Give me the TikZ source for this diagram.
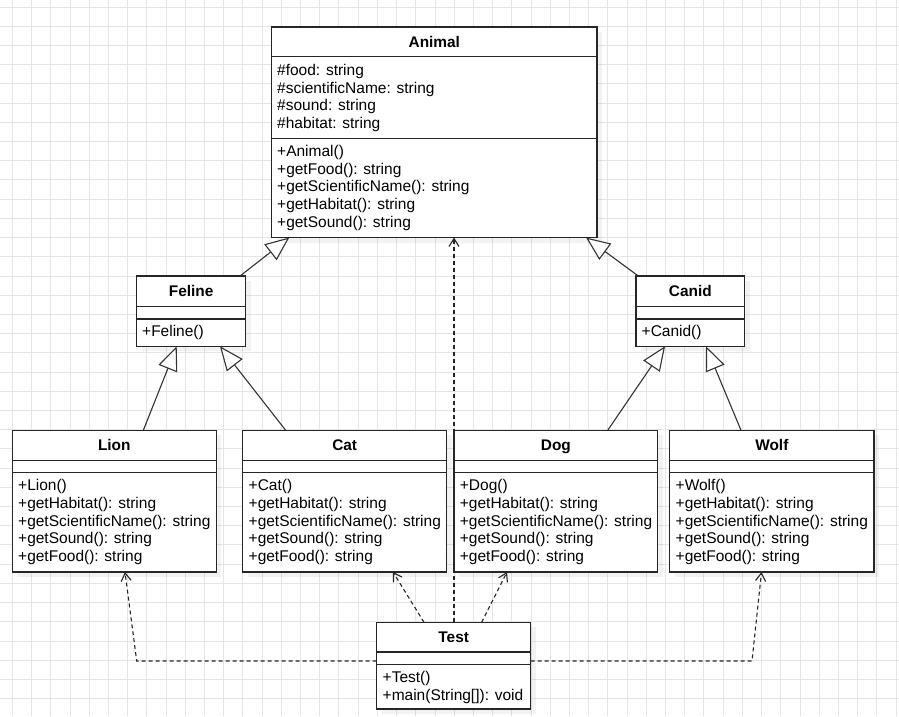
\documentclass[tikz,border=0pt]{standalone}
\usepackage{fontspec}
\setmainfont{Liberation Sans}
\usetikzlibrary{arrows.meta}
\tikzset{
  gridline/.style={draw=black!10, line width=0.8pt},
  shadowc/.style={fill=black, fill opacity=0.05},
  classbox/.style={draw=black!85, line width=1.2pt, fill=white, inner sep=0pt, outer sep=0pt, rectangle},
  classline/.style={draw=black!85, line width=1.2pt},
  ctitle/.style={anchor=base, inner sep=0pt, font=\fontsize{15.4pt}{17.8pt}\selectfont\bfseries},
  txt/.style={anchor=base west, inner sep=0pt, font=\fontsize{15.5pt}{17.8pt}\selectfont},
  gen/.style={draw=black!80, line width=1.1pt, -{Triangle[open, fill=white, length=24pt, width=20pt]}},
  dep/.style={draw=black!85, line width=1.1pt, dash pattern=on 4pt off 3pt, -{Straight Barb[length=8pt, width=10pt]}}
}
\newcommand\umlbox[8]{%
  \fill[shadowc] ({#2+5},{#3+5}) rectangle ({#4+5},{#5+5});
  \pgfmathsetmacro\bw{#4-#2}\pgfmathsetmacro\bh{#5-#3}%
  \node[classbox, minimum width=\bw pt, minimum height=\bh pt, anchor=north west] (#1) at (#2,#3) {};
  \draw[classline] (#2,#6) -- (#4,#6);
  \draw[classline] (#2,#7) -- (#4,#7);
  \node[ctitle] (#1-t) at ({(#2+#4)/2},{(#3+#6)/2+5.5}) {#8};
}
\newcommand\umllines[4]{%
  \foreach \t [count=\i] in {#4} {%
    \pgfmathsetmacro\yy{#3+(\i-1)*17.8}%
    \node[txt] (#1-\i) at (#2,\yy) {\t};
  }%
}
\begin{document}
\begin{tikzpicture}[x=1pt,y=-1pt]
\useasboundingbox (0,0) rectangle (899,716);
\fill[white] (0,0) rectangle (899,716);
% grid
\foreach \i in {0,...,46} \draw[gridline] ({12.3+19.21*\i},0) -- ({12.3+19.21*\i},716);
\foreach \j in {0,...,37} \draw[gridline] (0,{7+19.21*\j}) -- (899,{7+19.21*\j});

% classes
\umlbox{animal}{271.7}{27}{597}{237.5}{56.7}{138.3}{Animal}
\umllines{animala}{277}{75.3}{{\#food: string},{\#scientificName: string},{\#sound: string},{\#habitat: string}}
\umllines{animalm}{277}{156.2}{{+Animal()},{+getFood(): string},{+getScientificName(): string},{+getHabitat(): string},{+getSound(): string}}

\umlbox{feline}{136.7}{276}{245.7}{346.3}{306.3}{319}{Feline}
\umllines{felinem}{142}{336.8}{{+Feline()}}

\umlbox{canid}{636}{276}{744.7}{346.3}{306.3}{319}{Canid}
\umllines{canidm}{641.5}{336.8}{{+Canid()}}

\umlbox{lion}{12.3}{430.3}{216.3}{572}{460.3}{472.3}{Lion}
\umllines{lionm}{18}{490.5}{{+Lion()},{+getHabitat(): string},{+getScientificName(): string},{+getSound(): string},{+getFood(): string}}

\umlbox{cat}{242.7}{430.3}{446.7}{572}{460.3}{472.3}{Cat}
\umllines{catm}{248.5}{490.5}{{+Cat()},{+getHabitat(): string},{+getScientificName(): string},{+getSound(): string},{+getFood(): string}}

\umlbox{dog}{454}{430.3}{657.7}{572}{460.3}{472.3}{Dog}
\umllines{dogm}{459.7}{490.5}{{+Dog()},{+getHabitat(): string},{+getScientificName(): string},{+getSound(): string},{+getFood(): string}}

\umlbox{wolf}{669.7}{430.3}{874}{572}{460.3}{472.3}{Wolf}
\umllines{wolfm}{675.5}{490.5}{{+Wolf()},{+getHabitat(): string},{+getScientificName(): string},{+getSound(): string},{+getFood(): string}}

\umlbox{test}{376.7}{622.3}{530.7}{709}{652}{664.3}{Test}
\umllines{testm}{382.5}{682.5}{{+Test()},{+main(String[]): void}}

% generalizations
\draw[gen] ([xshift=103.3pt]feline.north west) -- ([xshift=17.6pt]animal.south west);
\draw[gen] ([xshift=2.3pt]canid.north west) -- ([xshift=314.3pt]animal.south west);
\draw[gen] ([xshift=131pt]lion.north west) -- ([xshift=40pt]feline.south west);
\draw[gen] ([xshift=43pt]cat.north west) -- ([xshift=83.3pt]feline.south west);
\draw[gen] ([xshift=153.7pt]dog.north west) -- ([xshift=29pt]canid.south west);
\draw[gen] ([xshift=71.3pt]wolf.north west) -- ([xshift=70pt]canid.south west);

% dependencies
\coordinate (lc) at (136.7,661);
\coordinate (wc) at (752,661);
\draw[dep] ([xshift=77.3pt]test.north west) -- ([xshift=182.3pt]animal.south west);
\draw[dep] ([xshift=47.3pt]test.north west) -- ([xshift=150.3pt]cat.south west);
\draw[dep] ([xshift=104.9pt]test.north west) -- ([xshift=53pt]dog.south west);
\draw[dep] ([yshift=-38.7pt]test.north west) -- (lc) -- ([xshift=112.7pt]lion.south west);
\draw[dep] ([yshift=-38.7pt]test.north east) -- (wc) -- ([xshift=91.8pt]wolf.south west);
\end{tikzpicture}
\end{document}
